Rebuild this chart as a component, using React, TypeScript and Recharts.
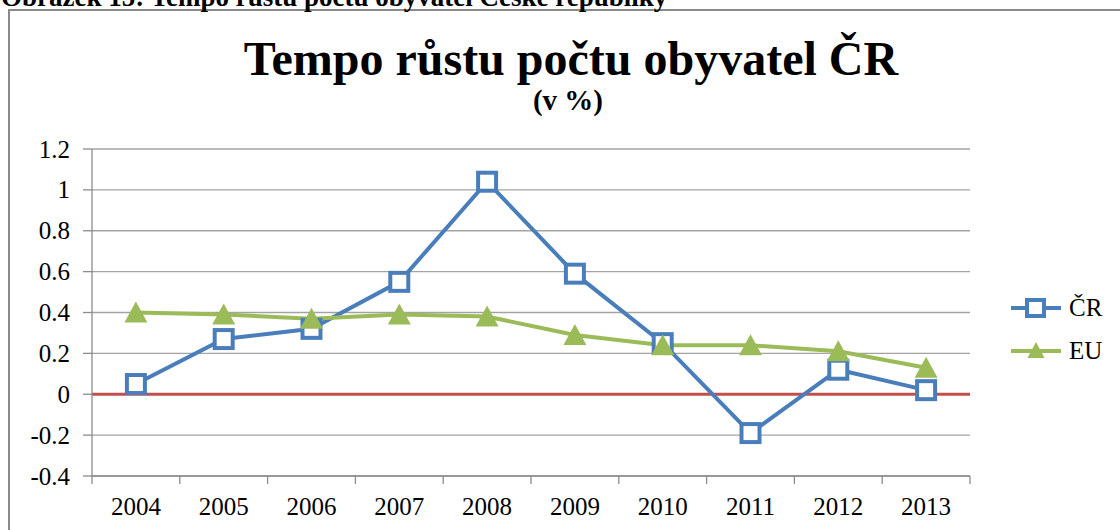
import React from 'react';
import { LineChart, Line, XAxis, YAxis, CartesianGrid, ReferenceLine, Legend } from 'recharts';

const years = ['2004', '2005', '2006', '2007', '2008', '2009', '2010', '2011', '2012', '2013'];
const crValues = [0.05, 0.27, 0.32, 0.55, 1.04, 0.59, 0.25, -0.19, 0.12, 0.02];
const euValues = [0.40, 0.39, 0.37, 0.39, 0.38, 0.29, 0.24, 0.24, 0.21, 0.13];
const yTicks = [-0.4, -0.2, 0, 0.2, 0.4, 0.6, 0.8, 1, 1.2];
const seriesKeys = ['cr', 'eu'];
const seriesNames = ['ČR', 'EU'];
const captionText = 'Obrázek 15: Tempo růstu počtu obyvatel České republiky';
const titleText = 'Tempo růstu počtu obyvatel ČR';
const subtitleText = '(v %)';

const data = years.map((y, i) => ({ year: y, cr: crValues[i], eu: euValues[i] }));

const FONT = '"Liberation Serif", "Times New Roman", serif';
const BLUE = '#4a7ebb';
const GREEN = '#9bbb59';
const RED = '#c0504d';
const GRID = '#a3a3a3';
const AXIS = '#8c8c8c';

const SquareDot = (props: any) => {
  const { cx, cy } = props;
  if (cx == null || cy == null) return null;
  return <rect x={cx - 9} y={cy - 9} width={18} height={18} fill="#fff" stroke={BLUE} strokeWidth={4} />;
};

const TriangleDot = (props: any) => {
  const { cx, cy } = props;
  if (cx == null || cy == null) return null;
  return <path d={`M${cx},${cy - 11} L${cx + 11.5},${cy + 10} L${cx - 11.5},${cy + 10} Z`} fill={GREEN} />;
};

const XTick = (props: any) => {
  const { x, y, payload, index, visibleTicksCount, width } = props;
  const half =
    (payload && payload.offset) ||
    (width && visibleTicksCount ? width / visibleTicksCount / 2 : 44);
  const top = y - 8;
  return (
    <g>
      <line x1={x - half} x2={x - half} y1={top} y2={top + 8} stroke={AXIS} strokeWidth={1.3} />
      {index === visibleTicksCount - 1 && (
        <line x1={x + half} x2={x + half} y1={top} y2={top + 8} stroke={AXIS} strokeWidth={1.3} />
      )}
      <text
        x={x}
        y={top + 39}
        textAnchor="middle"
        fontSize={25}
        fill="#000"
        style={{ fontFamily: FONT }}
      >
        {payload.value}
      </text>
    </g>
  );
};

const YTick = (props: any) => {
  const { x, y, payload } = props;
  return (
    <text x={x} y={y + 8.5} textAnchor="end" fontSize={25} fill="#000" style={{ fontFamily: FONT }}>
      {String(payload.value)}
    </text>
  );
};

const LegendContent = (props: any) => {
  const payload = [...(props.payload || [])].sort(
    (a: any, b: any) => seriesKeys.indexOf(a.dataKey) - seriesKeys.indexOf(b.dataKey)
  );
  return (
    <div style={{ fontFamily: FONT, fontSize: 25, color: '#000' }}>
      {payload.map((item: any, i: number) => {
        const isCR = item.dataKey === 'cr';
        return (
          <div key={i} style={{ display: 'flex', alignItems: 'center', height: 43 }}>
            <svg width={52} height={24} style={{ marginRight: 7 }}>
              <line x1={1} x2={51} y1={12} y2={12} stroke={isCR ? BLUE : GREEN} strokeWidth={4} />
              {isCR ? (
                <rect x={17} y={4} width={17} height={16} fill="#fff" stroke={BLUE} strokeWidth={4} />
              ) : (
                <path d="M26,3 L34.5,19 L17.5,19 Z" fill={GREEN} />
              )}
            </svg>
            <span>{item.value}</span>
          </div>
        );
      })}
    </div>
  );
};

export default function App() {
  return (
    <div
      style={{
        position: 'fixed',
        left: 0,
        top: 0,
        width: 1120,
        height: 530,
        overflow: 'hidden',
        background: '#fff',
      }}
    >
      <div
        style={{
          position: 'absolute',
          left: 8,
          top: 9,
          width: 1200,
          height: 600,
          borderLeft: '2.5px solid #8a8a8a',
          borderTop: '2.5px solid #8a8a8a',
          boxSizing: 'border-box',
        }}
      />
      <svg width={1120} height={530} style={{ position: 'absolute', left: 0, top: 0 }}>
        <text x={1} y={6} fontWeight="bold" fontSize={27} fill="#000" style={{ fontFamily: FONT }}>
          {captionText}
        </text>
        <text x={571} y={75} textAnchor="middle" fontWeight="bold" fontSize={48} fill="#000" style={{ fontFamily: FONT }}>
          {titleText}
        </text>
        <text x={568} y={110} textAnchor="middle" fontWeight="bold" fontSize={29} fill="#000" style={{ fontFamily: FONT }}>
          {subtitleText}
        </text>
      </svg>
      <div style={{ position: 'absolute', left: 0, top: 0 }}>
        <LineChart
          width={1120}
          height={530}
          data={data}
          margin={{ top: 149, right: 150, bottom: 0, left: 0 }}
        >
          <CartesianGrid vertical={false} stroke={GRID} strokeWidth={1.3} />
          <XAxis
            dataKey="year"
            scale="band"
            height={54}
            stroke={AXIS}
            strokeWidth={1.3}
            tickLine={false}
            tickSize={8}
            tickMargin={0}
            tick={<XTick />}
            interval={0}
          />
          <YAxis
            width={92}
            domain={[-0.4, 1.2]}
            ticks={yTicks}
            stroke={AXIS}
            strokeWidth={1.3}
            tickSize={9}
            tickMargin={13}
            tick={<YTick />}
            allowDataOverflow
          />
          <ReferenceLine y={0} stroke={RED} strokeWidth={3} />
          <Line
            dataKey="cr"
            name={seriesNames[0]}
            stroke={BLUE}
            strokeWidth={4}
            dot={<SquareDot />}
            activeDot={false}
            isAnimationActive={false}
          />
          <Line
            dataKey="eu"
            name={seriesNames[1]}
            stroke={GREEN}
            strokeWidth={4}
            dot={<TriangleDot />}
            activeDot={false}
            isAnimationActive={false}
          />
          <Legend
            layout="vertical"
            align="center"
            verticalAlign="middle"
            content={<LegendContent />}
            wrapperStyle={{ left: 1010, top: 286, width: 110, height: 86 }}
          />
        </LineChart>
      </div>
    </div>
  );
}
